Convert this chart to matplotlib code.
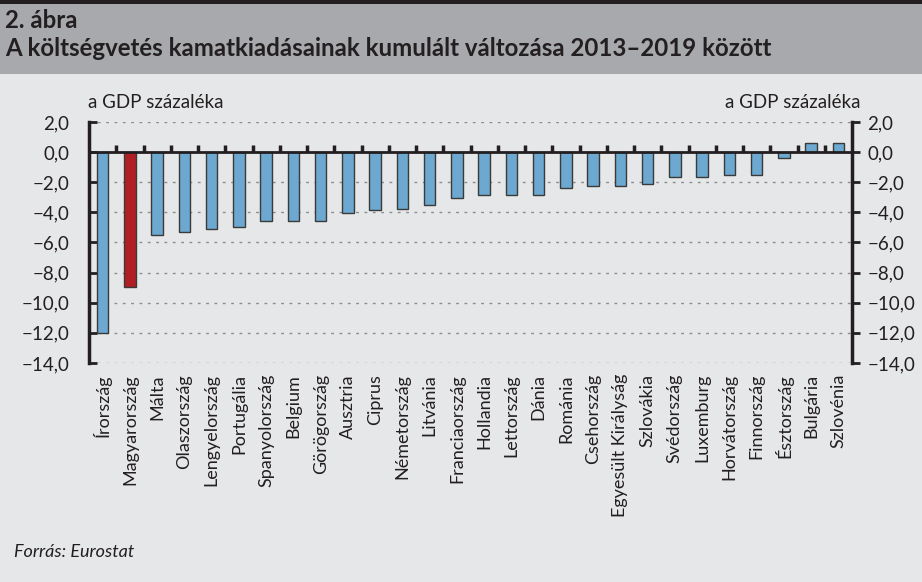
import numpy as np
import matplotlib.pyplot as plt
from matplotlib.patches import Rectangle

plt.rcParams['font.family'] = ['Lato', 'DejaVu Sans']

# data (% of GDP)
countries = ["Írország", "Magyarország", "Málta", "Olaszország", "Lengyelország",
             "Portugália", "Spanyolország", "Belgium", "Görögország", "Ausztria",
             "Ciprus", "Németország", "Litvánia", "Franciaország", "Hollandia",
             "Lettország", "Dánia", "Románia", "Csehország", "Egyesült Királyság",
             "Szlovákia", "Svédország", "Luxemburg", "Horvátország", "Finnország",
             "Észtország", "Bulgária", "Szlovénia"]
values = [-12.0, -8.98, -5.5, -5.28, -5.1, -5.0, -4.6, -4.6, -4.6, -4.04,
          -3.87, -3.78, -3.53, -3.04, -2.87, -2.87, -2.87, -2.38, -2.27, -2.22,
          -2.13, -1.63, -1.63, -1.54, -1.54, -0.40, 0.61, 0.61]
highlight = "Magyarország"
yticks = [2, 0, -2, -4, -6, -8, -10, -12, -14]

BLUE = "#6ca8d0"
RED = "#b01f24"
BG = "#e6e7e8"
HEAD = "#a7a9ac"
INK = "#231f20"

fig = plt.figure(figsize=(9.22, 5.82), dpi=100, facecolor=BG)

# header band
fig.patches.append(Rectangle((0, 1 - 74 / 582), 1, 74 / 582, transform=fig.transFigure,
                             facecolor=HEAD, edgecolor="none", zorder=0))
fig.patches.append(Rectangle((0, 1 - 4 / 582), 1, 4 / 582, transform=fig.transFigure,
                             facecolor=INK, edgecolor="none", zorder=1))
fig.text(5 / 922, 1 - 20 / 582, "2. ábra", fontsize=17.3, fontweight="bold",
         color=INK, va="center", ha="left")
fig.text(5 / 922, 1 - 49 / 582,
         "A költségvetés kamatkiadásainak kumulált változása 2013–2019 között",
         fontsize=17.3, fontweight="bold", color=INK, va="center", ha="left")

ax = fig.add_axes([89 / 922, 1 - 363 / 582, (852 - 89) / 922, (363 - 122) / 582])
ax.set_facecolor(BG)

x = np.arange(len(countries))
colors = [RED if c == highlight else BLUE for c in countries]
ax.bar(x, values, width=0.42, color=colors, edgecolor="#3a3a3a", linewidth=1.0, zorder=3)

ax.set_xlim(-0.5, len(countries) - 0.5)
ax.set_ylim(-14, 2)
ax.set_yticks(yticks)
fmt = [f"{v:.1f}".replace(".", ",").replace("-", "−") for v in yticks]
ax.set_yticklabels(fmt, fontsize=13.5, color=INK)

# dotted grid
for v in yticks:
    if v != 0:
        ax.axhline(v, color="#8a8c8e", linestyle=(0, (2, 4)), linewidth=1.0, zorder=1)
ax.axhline(0, color=INK, linewidth=2, zorder=4)

ax.set_xticks(x)
ax.set_xticklabels(countries, rotation=90, fontsize=13, color=INK)
ax.tick_params(axis="x", length=0, pad=8)
ax.tick_params(axis="y", direction="in", length=6, width=2, pad=14, color=INK)

for s in ["top", "bottom", "right"]:
    ax.spines[s].set_visible(False)
ax.spines["left"].set_linewidth(2.5)
ax.spines["left"].set_color(INK)

# right axis
ax2 = ax.twinx()
ax2.set_ylim(-14, 2)
ax2.set_yticks(yticks)
ax2.set_yticklabels(fmt, fontsize=13.5, color=INK)
ax2.tick_params(axis="y", direction="out", length=6, width=2, pad=5, color=INK)
for s in ["top", "bottom", "left"]:
    ax2.spines[s].set_visible(False)
ax2.spines["right"].set_linewidth(2.5)
ax2.spines["right"].set_color(INK)

# category separator ticks on the zero line
sec = ax.secondary_xaxis(14 / 16)
sec.set_xticks(x[:-1] + 0.5)
sec.set_xticklabels([])
sec.tick_params(direction="out", length=5, width=2.5, color=INK)
sec.spines["bottom"].set_visible(False)
sec.spines["top"].set_visible(False)

fig.text(88 / 922, 1 - 102 / 582, "a GDP százaléka", fontsize=13.5, color=INK,
         ha="left", va="center")
fig.text(860 / 922, 1 - 102 / 582, "a GDP százaléka", fontsize=13.5, color=INK,
         ha="right", va="center")
fig.text(14 / 922, 1 - 552 / 582, "Forrás: Eurostat", fontsize=13, style="italic",
         color=INK, ha="left", va="center")

fig.savefig("out.png", dpi=100, facecolor=BG)
